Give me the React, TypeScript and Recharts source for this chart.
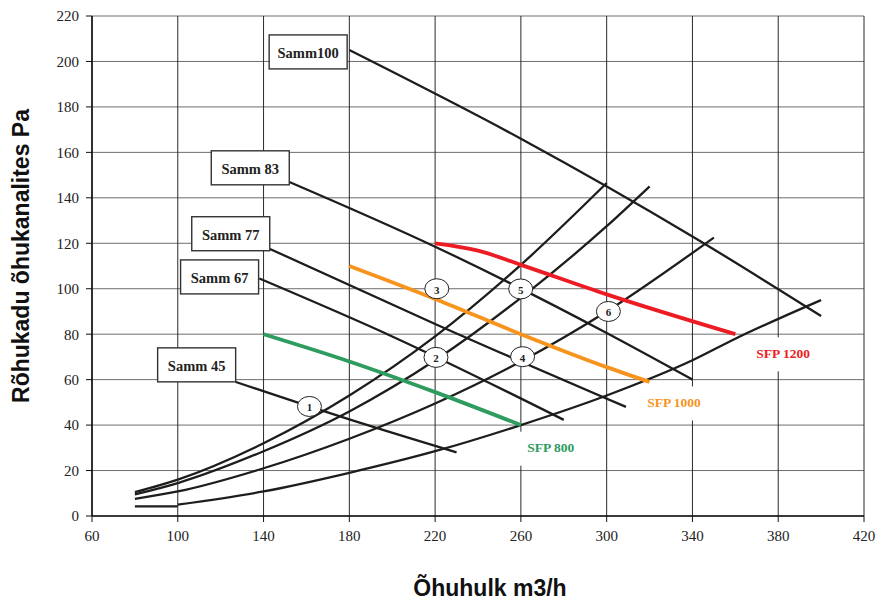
import React from 'react';
import {
  CartesianGrid,
  ComposedChart,
  Line,
  ReferenceDot,
  XAxis,
  YAxis,
} from 'recharts';

// axis ticks
const xTicks = [60, 100, 140, 180, 220, 260, 300, 340, 380, 420];
const yTicks = [0, 20, 40, 60, 80, 100, 120, 140, 160, 180, 200, 220];

// fan curves (Samm = speed step)
const samm100 = [{ x: 180, y: 205 }, { x: 260, y: 166 }, { x: 340, y: 123 }, { x: 400, y: 88 }];
const samm83 = [{ x: 152, y: 147 }, { x: 220, y: 118.5 }, { x: 300, y: 80.5 }, { x: 340, y: 60 }];
const samm77 = [{ x: 143, y: 117.5 }, { x: 220, y: 84.5 }, { x: 309, y: 48 }];
const samm67 = [{ x: 138, y: 104.5 }, { x: 200, y: 79 }, { x: 280, y: 42.3 }];
const samm45 = [{ x: 127, y: 59 }, { x: 180, y: 42.5 }, { x: 230, y: 28 }];

// duct system curves
const sysA = [
  { x: 80, y: 10.5 }, { x: 100, y: 16 }, { x: 140, y: 32 }, { x: 180, y: 53 },
  { x: 220, y: 79 }, { x: 260, y: 110.5 }, { x: 300, y: 146.5 },
];
const sysB = [
  { x: 80, y: 9.5 }, { x: 100, y: 14.5 }, { x: 140, y: 28.5 }, { x: 180, y: 46 },
  { x: 220, y: 68.5 }, { x: 260, y: 96 }, { x: 300, y: 127.5 }, { x: 320, y: 145 },
];
const sysC = [
  { x: 80, y: 7.5 }, { x: 100, y: 10.8 }, { x: 140, y: 21 }, { x: 180, y: 34 },
  { x: 220, y: 49.5 }, { x: 260, y: 68 }, { x: 300, y: 90 }, { x: 350, y: 122.5 },
];
const sysDFlat = [{ x: 80, y: 4.2 }, { x: 100, y: 4.2 }];
const sysD = [
  { x: 100, y: 5 }, { x: 140, y: 10.8 }, { x: 180, y: 19 }, { x: 220, y: 28.5 },
  { x: 260, y: 40 }, { x: 300, y: 53 }, { x: 340, y: 68.5 }, { x: 360, y: 78 },
  { x: 400, y: 95 },
];

// SFP lines
const sfp800 = [{ x: 140, y: 80 }, { x: 180, y: 68 }, { x: 220, y: 54.5 }, { x: 260, y: 40 }];
const sfp1000 = [
  { x: 180, y: 110 }, { x: 220, y: 95.5 }, { x: 260, y: 80 }, { x: 300, y: 65.5 },
  { x: 320, y: 59 },
];
const sfp1200 = [
  { x: 220, y: 120 }, { x: 240, y: 116.8 }, { x: 260, y: 110.5 }, { x: 300, y: 97.5 },
  { x: 360, y: 80 },
];

// annotations
const sammLabels = [
  { text: 'Samm100', x: 160.8, y: 204.2 },
  { text: 'Samm 83', x: 133.8, y: 153.2 },
  { text: 'Samm 77', x: 124.7, y: 124.2 },
  { text: 'Samm 67', x: 119.5, y: 105.2 },
  { text: 'Samm 45', x: 108.8, y: 66.5 },
];
const pointLabels = [
  { n: '1', x: 161.4, y: 48.2 },
  { n: '2', x: 220.4, y: 69.8 },
  { n: '3', x: 220.8, y: 100 },
  { n: '4', x: 260.8, y: 70.1 },
  { n: '5', x: 259.9, y: 99.9 },
  { n: '6', x: 300.8, y: 90 },
];
const sfpLabels = [
  { text: 'SFP 800', x: 273.9, y: 30.5, color: '#2E9B5F' },
  { text: 'SFP 1000', x: 331.4, y: 50.4, color: '#F7941D' },
  { text: 'SFP 1200', x: 382.3, y: 72, color: '#ED1C24' },
];

const BLACK = '#1d1d1b';
const serif = '"Liberation Serif", "Times New Roman", serif';
const sans = '"Liberation Sans", Arial, sans-serif';

const blackSeries = [samm100, samm83, samm77, samm67, samm45, sysA, sysB, sysC, sysD];

const SammBox = ({ cx, cy, text }: any) => (
  <g>
    <rect x={cx - 39} y={cy - 17} width={78} height={34} fill="#fff" stroke="#333" strokeWidth={1.4} />
    <text x={cx} y={cy + 1} textAnchor="middle" dominantBaseline="central"
      fontFamily={serif} fontWeight="bold" fontSize={14.5} fill="#222">{text}</text>
  </g>
);

const PointCircle = ({ cx, cy, n }: any) => (
  <g>
    <ellipse cx={cx} cy={cy} rx={12} ry={10} fill="#fff" stroke="#222" strokeWidth={1} />
    <text x={cx} y={cy + 1} textAnchor="middle" dominantBaseline="central"
      fontFamily={serif} fontWeight="bold" fontSize={11} fill="#222">{n}</text>
  </g>
);

// white patch behind the SFP text hides the grid lines, as in the original
const SfpLabel = ({ cx, cy, text, color }: any) => (
  <g>
    <rect x={cx - 32} y={cy - 15} width={64} height={34} fill="#fff" />
    <text x={cx} y={cy + 1} textAnchor="middle" dominantBaseline="central"
      fontFamily={serif} fontWeight="bold" fontSize={13.5} fill={color}>{text}</text>
  </g>
);

export default function App() {
  return (
    <div style={{ position: 'absolute', left: 0, top: 0, width: 879, height: 600, background: '#fff' }}>
      <ComposedChart width={879} height={600} margin={{ top: 16, right: 15, bottom: 54, left: 0 }}>
        <CartesianGrid vertical={false} stroke="#6e6e6e" strokeWidth={1} />
        <CartesianGrid horizontal={false} stroke="#2a2a2a" strokeWidth={1} />
        <XAxis
          type="number"
          dataKey="x"
          domain={[60, 420]}
          ticks={xTicks}
          allowDataOverflow
          height={30}
          tickSize={6}
          tickMargin={8}
          tick={{ fontFamily: serif, fontSize: 15, fill: '#222' }}
          axisLine={{ stroke: '#111', strokeWidth: 1.5 }}
          tickLine={{ stroke: '#111' }}
          label={(props: any) => {
            const vb = props.viewBox || { x: 92, y: 516, width: 772 };
            return (
              <text x={vb.x + vb.width / 2 + 12} y={vb.y + 72} textAnchor="middle" dominantBaseline="central"
                fontFamily={sans} fontWeight="bold" fontSize={23} fill="#111">Õhuhulk m3/h</text>
            );
          }}
        />
        <YAxis
          type="number"
          dataKey="y"
          domain={[0, 220]}
          ticks={yTicks}
          allowDataOverflow
          width={92}
          tickSize={6}
          tickMargin={7}
          tick={{ fontFamily: serif, fontSize: 15, fill: '#222' }}
          axisLine={{ stroke: '#111', strokeWidth: 1.5 }}
          tickLine={{ stroke: '#111' }}
          label={(props: any) => {
            const vb = props.viewBox || { x: 0, y: 16, height: 500 };
            const cx = vb.x + 21;
            const cy = vb.y + vb.height / 2 - 10;
            return (
              <text x={cx} y={cy} transform={`rotate(-90 ${cx} ${cy})`} textAnchor="middle" dominantBaseline="central"
                fontFamily={sans} fontWeight="bold" fontSize={23} fill="#111">Rõhukadu õhukanalites Pa</text>
            );
          }}
        />

        {blackSeries.map((d, i) => (
          <Line key={`b${i}`} data={d} dataKey="y" type="monotone" stroke={BLACK} strokeWidth={2.3}
            dot={false} activeDot={false} isAnimationActive={false} />
        ))}
        <Line data={sysDFlat} dataKey="y" type="linear" stroke={BLACK} strokeWidth={2.3}
          dot={false} activeDot={false} isAnimationActive={false} />

        <Line data={sfp800} dataKey="y" type="monotone" stroke="#2E9B5F" strokeWidth={3.8}
          dot={false} activeDot={false} isAnimationActive={false} />
        <Line data={sfp1000} dataKey="y" type="monotone" stroke="#F7941D" strokeWidth={3.8}
          dot={false} activeDot={false} isAnimationActive={false} />
        <Line data={sfp1200} dataKey="y" type="monotone" stroke="#ED1C24" strokeWidth={3.8}
          dot={false} activeDot={false} isAnimationActive={false} />

        {sfpLabels.map((l) => (
          <ReferenceDot key={l.text} x={l.x} y={l.y} r={10} ifOverflow="visible"
            shape={(p: any) => <SfpLabel cx={p.cx} cy={p.cy} text={l.text} color={l.color} />} />
        ))}
        {sammLabels.map((l) => (
          <ReferenceDot key={l.text} x={l.x} y={l.y} r={10} ifOverflow="visible"
            shape={(p: any) => <SammBox cx={p.cx} cy={p.cy} text={l.text} />} />
        ))}
        {pointLabels.map((l) => (
          <ReferenceDot key={l.n} x={l.x} y={l.y} r={10} ifOverflow="visible"
            shape={(p: any) => <PointCircle cx={p.cx} cy={p.cy} n={l.n} />} />
        ))}
      </ComposedChart>
    </div>
  );
}
